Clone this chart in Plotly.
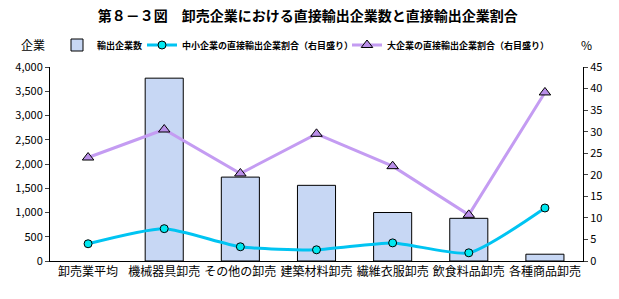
import plotly.graph_objects as go

categories = ["卸売業平均", "機械器具卸売", "その他の卸売", "建築材料卸売", "繊維衣服卸売", "飲食料品卸売", "各種商品卸売"]
export_firms = [None, 3770, 1730, 1560, 1000, 880, 140]
sme_ratio = [4.0, 7.5, 3.3, 2.6, 4.2, 1.9, 12.3]
large_ratio = [24.0, 30.5, 20.3, 29.5, 22.0, 10.7, 39.1]

left_ticks = [0, 500, 1000, 1500, 2000, 2500, 3000, 3500, 4000]
right_ticks = [0, 5, 10, 15, 20, 25, 30, 35, 40, 45]

FONT = "Noto Sans CJK JP"

fig = go.Figure()
fig.add_trace(go.Bar(
    x=categories, y=export_firms, name="輸出企業数",
    marker=dict(color="#c7d7f4", line=dict(color="black", width=1)),
    width=0.5, legendwidth=40,
))
fig.add_trace(go.Scatter(
    x=categories, y=sme_ratio, name="中小企業の直接輸出企業割合（右目盛り）",
    yaxis="y2", mode="lines+markers",
    line=dict(color="#00c4f2", width=3, shape="spline", smoothing=0.6),
    marker=dict(symbol="circle", size=8, color="#00e8f0", line=dict(color="black", width=1)),
    legendwidth=160,
))
fig.add_trace(go.Scatter(
    x=categories, y=large_ratio, name="大企業の直接輸出企業割合（右目盛り）",
    yaxis="y2", mode="lines+markers",
    line=dict(color="#c49cf2", width=3),
    marker=dict(symbol="triangle-up", size=10, color="#b98ee8", line=dict(color="black", width=1)),
))

fig.update_layout(
    width=619, height=299,
    margin=dict(l=50, r=36, t=67, b=38, autoexpand=False),
    paper_bgcolor="white", plot_bgcolor="white",
    font=dict(family=FONT, color="black", size=11),
    showlegend=True,
    title=dict(text="<b>第８－３図　卸売企業における直接輸出企業数と直接輸出企業割合</b>",
               x=0.497, xanchor="center", y=0.945, yanchor="middle",
               font=dict(size=14, family=FONT)),
    legend=dict(orientation="h", x=(57 - 50) / 533, xanchor="left", y=(261 - 45) / 194, yanchor="middle",
                font=dict(size=9, family=FONT, weight="bold"),
                itemwidth=30, tracegroupgap=0, bgcolor="rgba(0,0,0,0)"),
    bargap=0.5,
    xaxis=dict(showline=True, linecolor="black", linewidth=1, ticks="", showgrid=False,
               tickfont=dict(size=12), mirror=False),
    yaxis=dict(range=[0, 4000], tickvals=left_ticks, tickformat=",", showline=True,
               linecolor="black", linewidth=1, ticks="outside", ticklen=4,
               showgrid=False, zeroline=False, tickfont=dict(size=11)),
    yaxis2=dict(range=[0, 45], tickvals=right_ticks, overlaying="y", side="right",
                showline=True, linecolor="black", linewidth=1, ticks="outside", ticklen=4,
                showgrid=False, zeroline=False, tickfont=dict(size=11)),
    annotations=[
        dict(text="企業", x=33, y=45, xref="paper", yref="paper", showarrow=False,
             xanchor="center", yanchor="middle", font=dict(size=12)),
        dict(text="%", x=586, y=44, xref="paper", yref="paper", showarrow=False,
             xanchor="center", yanchor="middle", font=dict(size=12)),
    ],
)
# convert pixel annotation positions into paper coordinates
pw = 619 - 50 - 36
ph = 299 - 67 - 38
for a in fig.layout.annotations:
    a.x = (a.x - 50) / pw
    a.y = (299 - 38 - a.y) / ph

fig.write_html("out.html")
